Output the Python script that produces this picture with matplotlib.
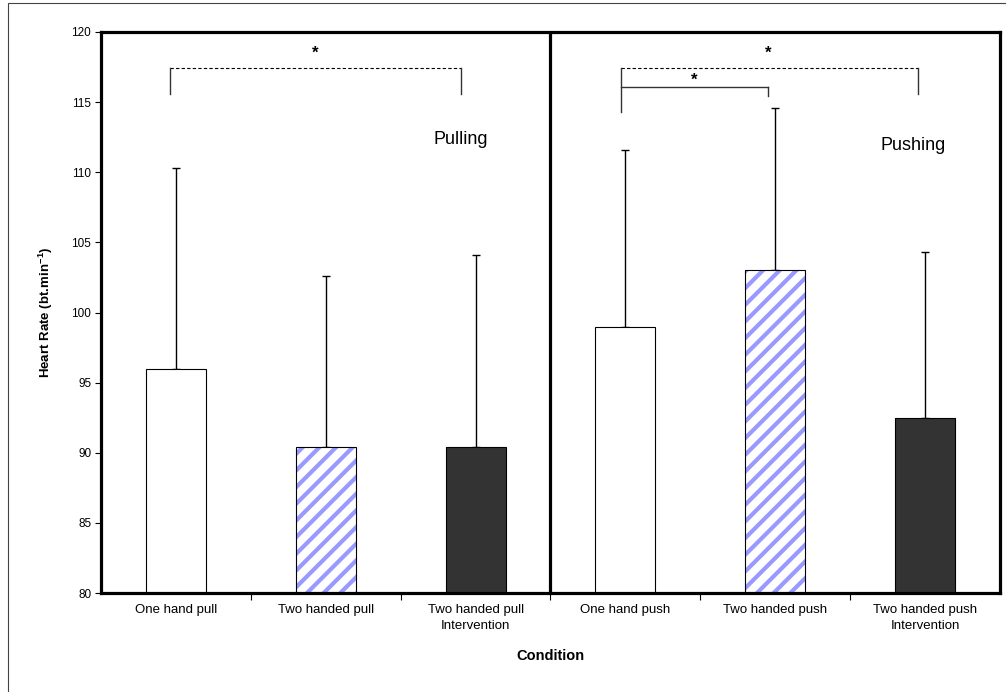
import matplotlib
matplotlib.use("Agg")
import matplotlib.pyplot as plt
from matplotlib.patches import Rectangle

plt.rcParams['font.family'] = ['Liberation Sans', 'DejaVu Sans']
plt.rcParams['hatch.linewidth'] = 3.0

categories = ["One hand pull", "Two handed pull", "Two handed pull\nIntervention",
              "One hand push", "Two handed push", "Two handed push\nIntervention"]
means = [96.0, 90.4, 90.4, 99.0, 103.0, 92.5]
errors = [14.3, 12.2, 13.7, 12.6, 11.6, 11.8]
fills = ["white", "white", "#333333", "white", "white", "#333333"]
hatches = [None, "//", None, None, "//", None]
yticks = [80, 85, 90, 95, 100, 105, 110, 115, 120]
panel_labels = ["Pulling", "Pushing"]

W, H = 1006, 692
fig = plt.figure(figsize=(W / 100, H / 100), dpi=100)
ax = fig.add_axes([101 / W, 1 - 593 / H, (1000 - 101) / W, (593 - 32) / H])

# figure border
fig.patches.append(Rectangle((8 / W, -0.01), 1.02, 1 - 3 / H + 0.01, transform=fig.transFigure,
                             fill=False, edgecolor="#444444", linewidth=0.8))

x = list(range(len(categories)))
for i in x:
    ax.bar(i, means[i] - 80, bottom=80, width=0.4, color=fills[i],
           edgecolor="#9999ff" if hatches[i] else "black", hatch=hatches[i],
           linewidth=0, zorder=2)
    ax.bar(i, means[i] - 80, bottom=80, width=0.4, fill=False,
           edgecolor="black", linewidth=0.8, zorder=3)
    ax.errorbar(i, means[i], yerr=[[0], [errors[i]]], fmt="none", ecolor="black",
                elinewidth=1.0, capsize=3, capthick=1.0, zorder=1)

ax.set_xlim(-0.5, 5.5)
ax.set_ylim(80, 120)
ax.set_yticks(yticks)
ax.set_yticklabels([str(v) for v in yticks], fontsize=8.5)
ax.set_xticks(x)
ax.set_xticklabels(categories, fontsize=9.5, linespacing=1.45)
ax.tick_params(axis="x", which="major", length=0, pad=8)
ax.set_xticks([0.5, 1.5, 2.5, 3.5, 4.5], minor=True)
ax.tick_params(axis="x", which="minor", length=5, width=0.8, direction="out")
ax.tick_params(axis="y", length=4, width=0.8, direction="out", pad=3)

for s in ax.spines.values():
    s.set_linewidth(2.3)

ax.axvline(2.5, color="black", linewidth=2.3, zorder=4)

ax.set_ylabel("Heart Rate (bt.min$^{\\mathregular{-}}$$^{\\mathregular{1}}$)", fontsize=9.5,
              fontweight="bold", labelpad=12)
ax.set_xlabel("Condition", fontsize=10.5, fontweight="bold", labelpad=12)

# panel labels
ax.text(1.9, 112.3, panel_labels[0], fontsize=13, ha="center", va="center")
ax.text(4.92, 111.9, panel_labels[1], fontsize=13, ha="center", va="center")

# significance brackets
lc = "#333333"
ax.plot([-0.04, 1.9], [117.45, 117.45], color="black", lw=0.8, ls=(0, (3, 2)))
ax.plot([-0.04, -0.04], [117.45, 115.6], color=lc, lw=1.0)
ax.plot([1.9, 1.9], [117.45, 115.6], color=lc, lw=1.0)
ax.text(0.93, 118.5, "*", fontsize=12, ha="center", va="center", fontweight="bold")

ax.plot([2.97, 4.95], [117.45, 117.45], color="black", lw=0.8, ls=(0, (3, 2)))
ax.plot([2.97, 2.97], [117.45, 114.3], color=lc, lw=1.0)
ax.plot([4.95, 4.95], [117.45, 115.6], color=lc, lw=1.0)
ax.text(3.95, 118.5, "*", fontsize=12, ha="center", va="center", fontweight="bold")

ax.plot([2.97, 3.95], [116.1, 116.1], color=lc, lw=1.0)
ax.plot([3.95, 3.95], [116.1, 115.45], color=lc, lw=1.0)
ax.text(3.46, 116.55, "*", fontsize=12, ha="center", va="center", fontweight="bold")

fig.savefig("out.png", dpi=100)
